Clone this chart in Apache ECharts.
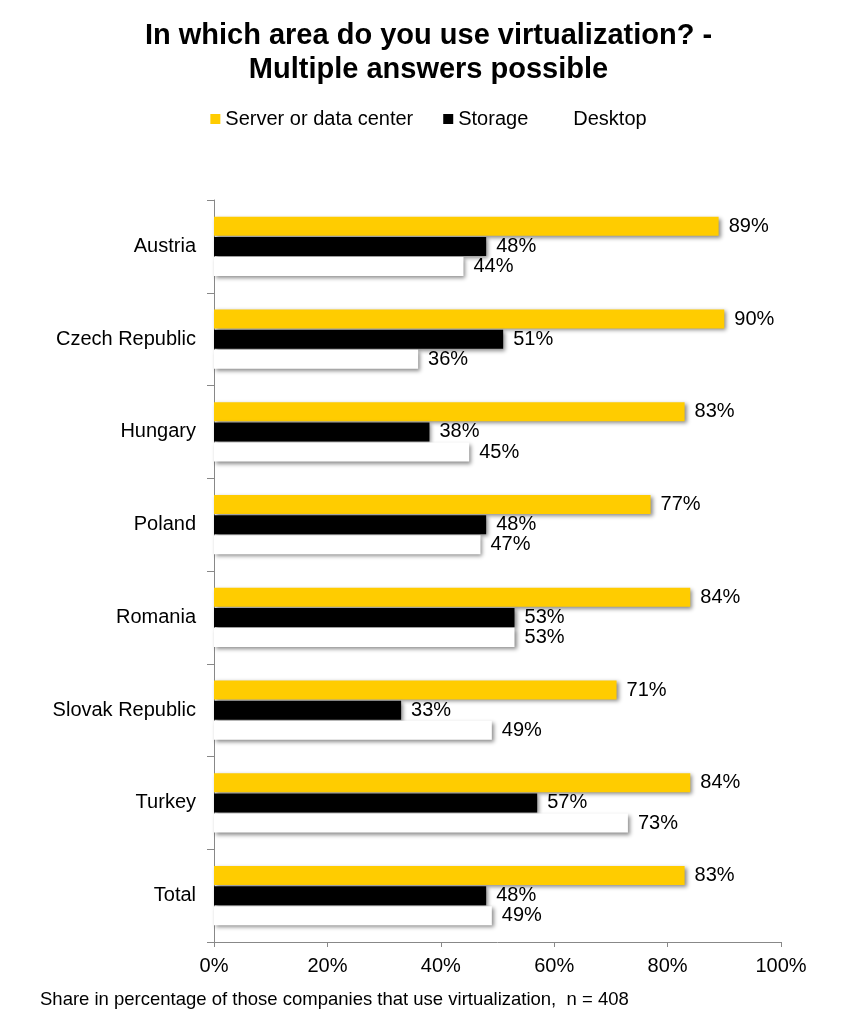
<!DOCTYPE html>
<html><head><meta charset="utf-8">
<script src="https://cdn.jsdelivr.net/npm/echarts@6/dist/echarts.min.js"></script>
<style>html,body{margin:0;padding:0;background:#fff}#c{width:857px;height:1032px}</style>
</head><body><div id="c"></div>
<script>
const categories = ["Austria","Czech Republic","Hungary","Poland","Romania","Slovak Republic","Turkey","Total"];
const server = [89,90,83,77,84,71,84,83];
const storage = [48,51,38,48,53,33,57,48];
const desktop = [44,36,45,47,53,49,73,49];
const xTicks = [0,20,40,60,80,100];
const font = "Liberation Sans, Arial, sans-serif";
const chart = echarts.init(document.getElementById('c'));
function mk(name, data, color){
  return {name, type:'bar', data, barWidth:19, barGap:'6%', barCategoryGap:'35%',
    itemStyle:{color, borderWidth:0, shadowColor:'rgba(0,0,0,0.45)', shadowBlur:4, shadowOffsetX:2, shadowOffsetY:2},
    label:{show:true, position:'right', distance:10, formatter:'{c}%', color:'#000', fontFamily:font, fontSize:20}};
}
chart.setOption({
  animation:false,
  title:{text:'In which area do you use virtualization? -\nMultiple answers possible', left:'center', top:14,
    textStyle:{fontFamily:font, fontSize:29, fontWeight:'bold', color:'#000', lineHeight:34}},
  legend:{top:104, left:'center', itemWidth:10, itemHeight:10, itemGap:30,
    textStyle:{fontFamily:font, fontSize:20, color:'#000'},
    data:[{name:'Server or data center', icon:'rect', itemStyle:{color:'#FFCC00', shadowBlur:0, shadowOffsetX:0, shadowOffsetY:0, borderWidth:0}},
          {name:'Storage', icon:'rect', itemStyle:{color:'#000', shadowBlur:0, shadowOffsetX:0, shadowOffsetY:0, borderWidth:0}},
          {name:'Desktop', icon:'rect', itemStyle:{color:'#fff', shadowBlur:0, shadowOffsetX:0, shadowOffsetY:0, borderWidth:0}}]},
  grid:{left:214, right:76, top:200, bottom:90},
  xAxis:{type:'value', min:0, max:100, interval:20,
    axisLine:{show:true, lineStyle:{color:'#888'}}, axisTick:{show:true, length:5, lineStyle:{color:'#888'}},
    splitLine:{show:false},
    axisLabel:{formatter:'{value}%', fontFamily:font, fontSize:20, color:'#000', margin:14}},
  yAxis:{type:'category', data:categories, inverse:true,
    axisLine:{show:true, lineStyle:{color:'#888'}}, axisTick:{show:true, length:7, lineStyle:{color:'#888'}},
    axisLabel:{fontFamily:font, fontSize:20, color:'#000', margin:18}},
  series:[mk('Server or data center', server, '#FFCC00'), mk('Storage', storage, '#000000'), mk('Desktop', desktop, '#FFFFFF')],
  graphic:[{type:'text', left:40, top:990, style:{text:'Share in percentage of those companies that use virtualization,  n = 408', font:'18.5px '+font, fill:'#000'}}]
});
</script></body></html>
